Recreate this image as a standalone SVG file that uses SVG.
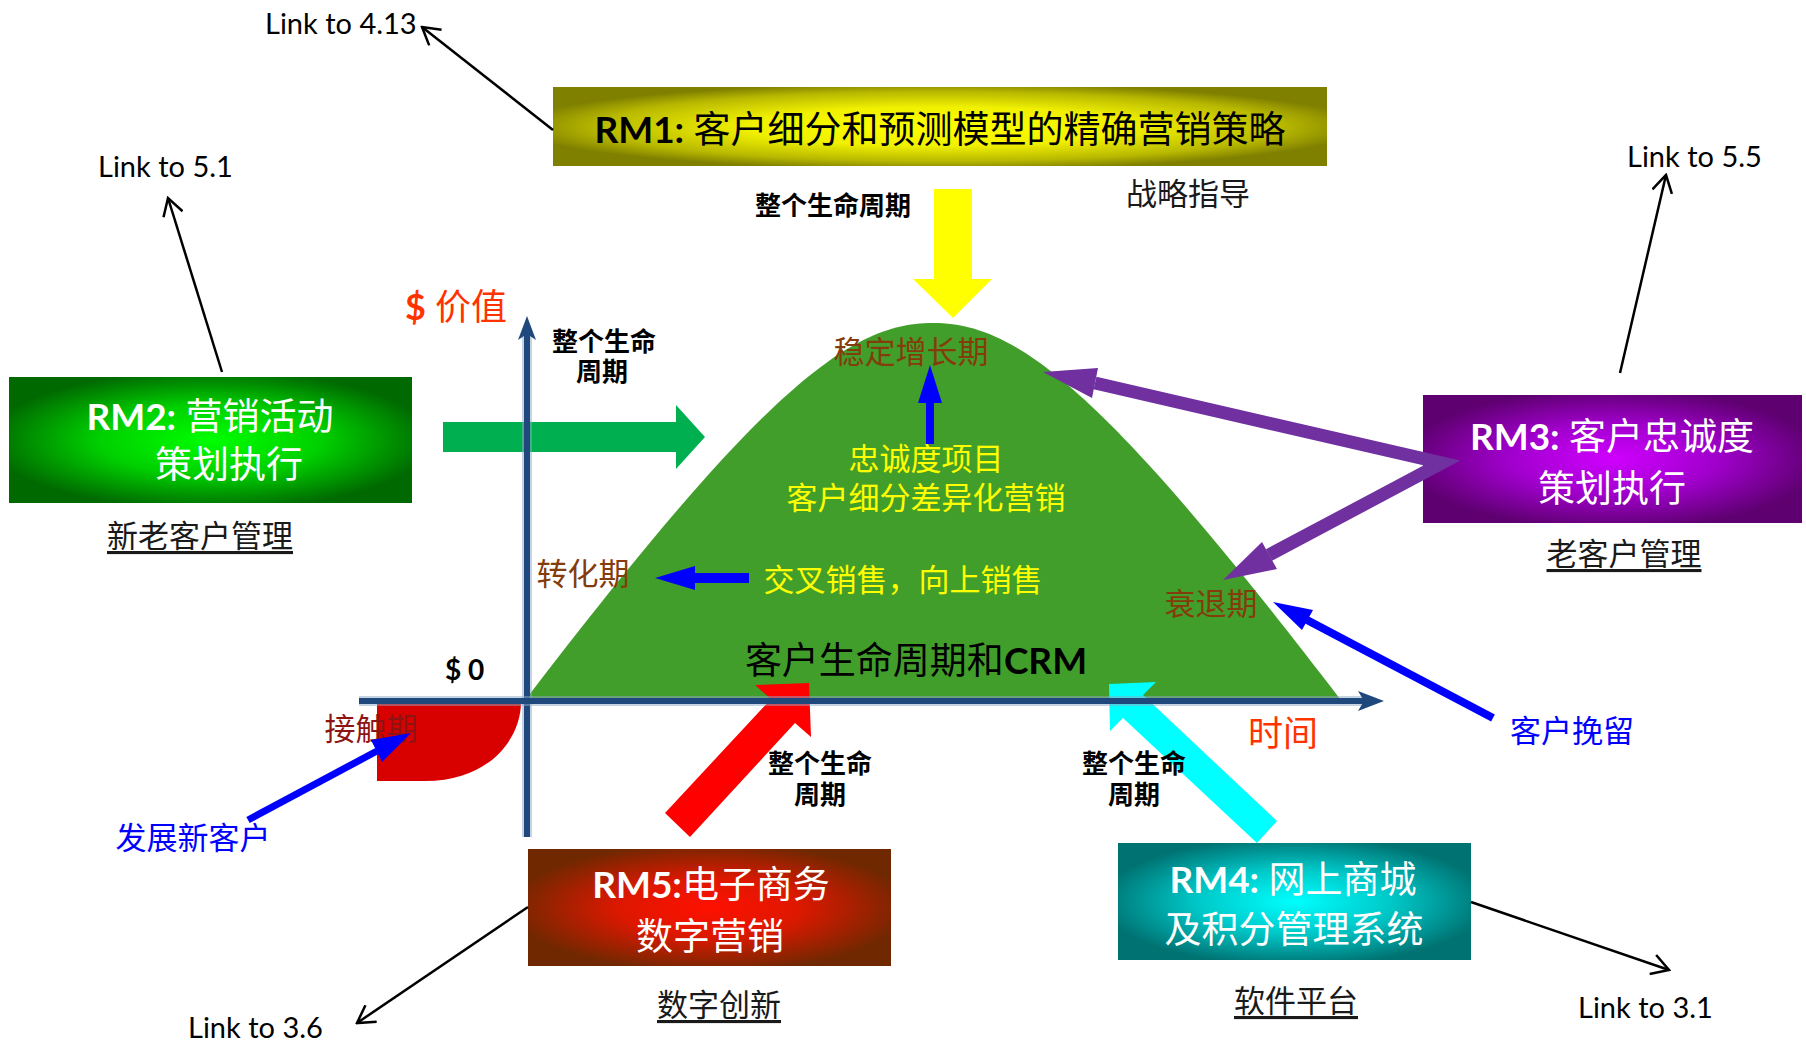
<svg xmlns="http://www.w3.org/2000/svg" width="1806" height="1041" viewBox="0 0 1806 1041">
<defs>
<style>
text{font-family:Lato,'Noto Sans CJK SC',sans-serif;dominant-baseline:central;}
.link{font-size:29px;fill:#000;}
.lbl{font-size:31px;fill:#1a1a1a;text-decoration:underline;text-anchor:middle;}
.boxt{font-size:37px;fill:#fff;text-anchor:middle;}
.life{font-size:26px;font-weight:bold;fill:#000;text-anchor:middle;}
.stage{font-size:31px;fill:#843C0C;text-anchor:middle;}
.yel{font-size:31px;fill:#FFFF00;text-anchor:middle;}
.thin{stroke:#000;stroke-width:2.5;fill:none;marker-end:url(#open);}
.axis{stroke:#1F497D;stroke-width:6;}
.axisglow{stroke:#8FA8C8;stroke-width:10;opacity:0.5;}
.blue{fill:#0000FF;}
.purple{fill:#7030A0;}
</style>
<marker id="open" viewBox="0 0 22 22" refX="20" refY="11" markerWidth="22" markerHeight="22" markerUnits="userSpaceOnUse" orient="auto">
<path d="M3,1 L20,11 L3,21" fill="none" stroke="#000" stroke-width="2.5"/>
</marker>
<radialGradient id="gRM1" cx="0.5" cy="0.5" r="0.55">
<stop offset="0" stop-color="#FFFF00"/><stop offset="0.45" stop-color="#F0F000"/><stop offset="0.8" stop-color="#B8B800"/><stop offset="1" stop-color="#7F7F00"/>
</radialGradient>
<radialGradient id="gRM2" cx="0.5" cy="0.5" r="0.55">
<stop offset="0" stop-color="#00FF00"/><stop offset="0.5" stop-color="#00D000"/><stop offset="1" stop-color="#006A00"/>
</radialGradient>
<radialGradient id="gRM3" cx="0.5" cy="0.5" r="0.55">
<stop offset="0" stop-color="#D000FF"/><stop offset="0.5" stop-color="#A000CC"/><stop offset="1" stop-color="#5E0070"/>
</radialGradient>
<radialGradient id="gRM4" cx="0.5" cy="0.5" r="0.55">
<stop offset="0" stop-color="#00FFFF"/><stop offset="0.5" stop-color="#00C8C8"/><stop offset="1" stop-color="#007272"/>
</radialGradient>
<radialGradient id="gRM5" cx="0.5" cy="0.5" r="0.55">
<stop offset="0" stop-color="#FF1000"/><stop offset="0.45" stop-color="#DD1800"/><stop offset="1" stop-color="#702800"/>
</radialGradient>
</defs>
<rect width="1806" height="1041" fill="#fff"/>

<g id="lifecycle-curve">
<path d="M526,699 C766,385 851,323 933,323 C1015,323 1100,385 1340,699 Z" fill="#429E2A"/>
</g>
<g id="contact-area">
<path d="M377,702 H521 C521,738 490,781 425,781 H377 Z" fill="#D90000"/>
</g>

<g id="block-arrows">
<polygon points="934,189 972,189 972,279 992,279 953,318 913,279 934,279" fill="#FFFF00"/>
<polygon points="443,422 676,422 676,405 705,437 676,469 676,452 443,452" fill="#00B050"/>
<polygon points="665,813 771,699 755,685 809,683 811,737 795,723 690,837" fill="#FF0000"/>
<polygon points="1277,821 1143,695 1156,682 1109,684 1110,731 1123,718 1257,843" fill="#00FFFF"/>
</g>

<g id="axes">
<line class="axisglow" x1="527" y1="837" x2="527" y2="334"/>
<line class="axis" x1="527" y1="837" x2="527" y2="334"/>
<polygon points="527,316 536,340 527,334 518,340" fill="#1F497D"/>
<line class="axisglow" x1="359" y1="701" x2="1366" y2="701"/>
<line class="axis" x1="359" y1="701" x2="1366" y2="701"/>
<polygon points="1384,701 1358,691 1364,701 1358,711" fill="#1F497D"/>
<text x="405" y="306" font-size="36" fill="#FF3300"><tspan font-weight="bold">$</tspan> 价值</text>
<text x="445" y="669" font-size="28" font-weight="bold" fill="#000">$ 0</text>
<text x="1283" y="732" font-size="35" fill="#FF3300" text-anchor="middle">时间</text>
</g>

<g id="node-RM1">
<rect x="553" y="87" width="774" height="79" fill="url(#gRM1)"/>
<text x="940" y="128" font-size="37" fill="#000" text-anchor="middle"><tspan font-weight="bold">RM1:</tspan> 客户细分和预测模型的精确营销策略</text>
<text x="1188" y="193" font-size="31" fill="#1a1a1a" text-anchor="middle">战略指导</text>
<text class="life" x="833" y="205">整个生命周期</text>
</g>

<g id="node-RM2">
<rect x="9" y="377" width="403" height="126" fill="url(#gRM2)"/>
<text class="boxt" x="210" y="415"><tspan font-weight="bold">RM2:</tspan> 营销活动</text>
<text class="boxt" x="229" y="463">策划执行</text>
<text class="lbl" x="200" y="535">新老客户管理</text>
</g>

<g id="node-RM3">
<rect x="1423" y="395" width="379" height="128" fill="url(#gRM3)"/>
<text class="boxt" x="1612" y="435"><tspan font-weight="bold">RM3:</tspan> 客户忠诚度</text>
<text class="boxt" x="1612" y="487">策划执行</text>
<text class="lbl" x="1624" y="553">老客户管理</text>
</g>

<g id="node-RM4">
<rect x="1118" y="843" width="353" height="117" fill="url(#gRM4)"/>
<text class="boxt" x="1293" y="878"><tspan font-weight="bold">RM4:</tspan> 网上商城</text>
<text class="boxt" x="1294" y="928" font-size="41">及积分管理系统</text>
<text class="lbl" x="1296" y="1000">软件平台</text>
</g>

<g id="node-RM5">
<rect x="528" y="849" width="363" height="117" fill="url(#gRM5)"/>
<text class="boxt" x="711" y="883"><tspan font-weight="bold">RM5:</tspan>电子商务</text>
<text class="boxt" x="710" y="935">数字营销</text>
<text class="lbl" x="719" y="1004">数字创新</text>
</g>

<g id="stage-labels">
<text class="stage" x="911" y="351">稳定增长期</text>
<text class="stage" x="583" y="573">转化期</text>
<text class="stage" x="1211" y="603">衰退期</text>
<text x="371" y="728" font-size="31" fill="#8E1414" text-anchor="middle">接触期</text>
<text class="yel" x="926" y="458">忠诚度项目</text>
<text class="yel" x="926" y="497">客户细分差异化营销</text>
<text class="yel" x="903" y="579">交叉销售，向上销售</text>
<text x="916" y="659" font-size="37" fill="#000" text-anchor="middle">客户生命周期和<tspan font-weight="bold">CRM</tspan></text>
<text class="life" x="604" y="341">整个生命</text>
<text class="life" x="602" y="371">周期</text>
<text class="life" x="820" y="763">整个生命</text>
<text class="life" x="820" y="794">周期</text>
<text class="life" x="1134" y="763">整个生命</text>
<text class="life" x="1134" y="794">周期</text>
<text x="193" y="837" font-size="31" fill="#0000FF" text-anchor="middle">发展新客户</text>
<text x="1572" y="730" font-size="31" fill="#0000FF" text-anchor="middle">客户挽留</text>
</g>

<g id="connectors">
<rect class="blue" x="926" y="400" width="8" height="44"/>
<polygon class="blue" points="918,403 942,403 930,365"/>
<rect class="blue" x="693" y="573" width="56" height="10"/>
<polygon class="blue" points="695,566 695,590 655,578"/>
<line x1="248" y1="820" x2="377" y2="751" stroke="#0000FF" stroke-width="7"/>
<polygon class="blue" points="411,733 371,740 382,762"/>
<line x1="1493" y1="718" x2="1307" y2="620" stroke="#0000FF" stroke-width="8"/>
<polygon class="blue" points="1273,602 1313,610 1302,630"/>
<polyline points="1095,383 1442,463 1269,555" fill="none" stroke="#7030A0" stroke-width="13" stroke-linejoin="miter"/>
<polygon class="purple" points="1043,372 1098,368 1092,398"/>
<polygon class="purple" points="1223,580 1262,542 1277,569"/>
<line class="thin" x1="553" y1="130" x2="422" y2="27"/>
<line class="thin" x1="222" y1="372" x2="168" y2="198"/>
<line class="thin" x1="1620" y1="373" x2="1666" y2="175"/>
<line class="thin" x1="528" y1="907" x2="357" y2="1023"/>
<line class="thin" x1="1471" y1="902" x2="1669" y2="970"/>
</g>

<g id="link-labels">
<text class="link" x="265" y="22">Link to 4.13</text>
<text class="link" x="98" y="165">Link to 5.1</text>
<text class="link" x="1627" y="155">Link to 5.5</text>
<text class="link" x="188" y="1026">Link to 3.6</text>
<text class="link" x="1578" y="1006">Link to 3.1</text>
</g>
</svg>
